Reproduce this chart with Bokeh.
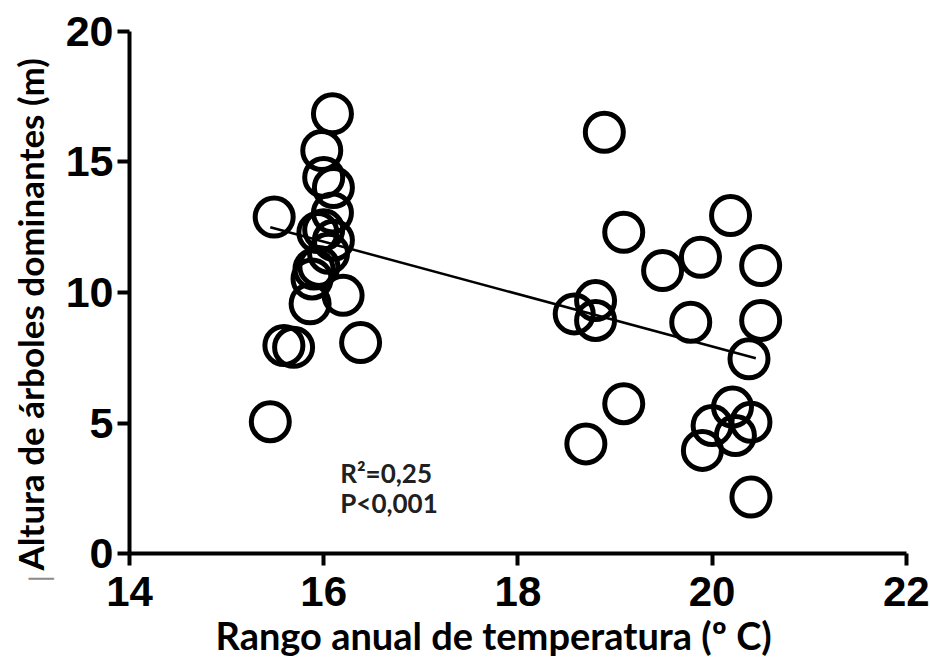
from bokeh.plotting import figure
from bokeh.models import Label, Range1d, FixedTicker
from bokeh.embed import file_html
from bokeh.resources import INLINE

# Data
temp_range = [15.45, 15.49, 15.59, 15.69, 16.09, 15.98, 16.00, 16.10, 16.09,
              15.94, 16.00, 16.10, 16.05, 15.95, 15.88, 15.90, 15.86, 16.20, 16.38,
              18.58, 18.80, 18.80, 18.89, 19.09, 19.09, 18.70, 19.49, 19.88, 20.19,
              20.50, 19.78, 20.50, 20.38, 20.21, 20.00, 20.40, 19.90, 20.24, 20.40]
tree_height = [5.05, 12.89, 7.97, 7.90, 16.85, 15.44, 14.41, 14.02, 13.05,
               12.3, 12.4, 12.0, 11.5, 11.0, 10.52, 10.9, 9.57, 9.89, 8.08,
               9.18, 9.69, 8.93, 16.14, 12.31, 5.74, 4.20, 10.84, 11.35, 12.95,
               11.03, 8.86, 8.93, 7.46, 5.61, 4.90, 5.03, 3.95, 4.52, 2.16]
fit_x = [15.45, 20.45]
fit_y = [12.5, 7.48]
x_ticks = [14, 16, 18, 20, 22]
y_ticks = [0, 5, 10, 15, 20]
x_title = "Rango anual de temperatura (º C)"
y_title = "Altura de árboles dominantes (m)"
stats = ["R²=0,25", "P<0,001"]

# the frame covers the whole page; axes are drawn at fixed data positions
p = figure(width=930, height=669, output_backend="svg", toolbar_location=None,
           x_range=Range1d(12.6715, 22.2492), y_range=Range1d(-4.4444, 21.1877),
           min_border=0)
p.outline_line_color = None
p.xgrid.visible = False
p.ygrid.visible = False
p.background_fill_color = "white"
p.border_fill_color = "white"

p.line(fit_x, fit_y, line_color="black", line_width=2.5)
p.scatter(temp_range, tree_height, size=38, marker="circle",
          fill_color="white", fill_alpha=0.0, line_color="black", line_width=5)

xa = p.xaxis[0]
ya = p.yaxis[0]
xa.fixed_location = 0
xa.bounds = (14, 22)
ya.fixed_location = 14
ya.bounds = (0, 20)
for ax in (xa, ya):
    ax.axis_line_width = 4
    ax.axis_line_color = "black"
    ax.major_tick_line_width = 4
    ax.major_tick_line_color = "black"
    ax.major_tick_out = 12
    ax.major_tick_in = 0
    ax.minor_tick_line_color = None
    ax.major_label_text_color = "black"
    ax.major_label_text_font = "Liberation Sans"

xa.ticker = FixedTicker(ticks=x_ticks)
ya.ticker = FixedTicker(ticks=y_ticks)
xa.major_label_text_font_style = "bold"
xa.major_label_text_font_size = "42px"
xa.major_label_standoff = 11
ya.major_label_text_font_style = "bold"
ya.major_label_text_font_size = "43px"
ya.major_label_standoff = 4

# axis titles
p.add_layout(Label(x=17.75, y=-3.12, text=x_title, text_font="Lato",
                   text_font_size="38px", text_font_style="bold",
                   text_align="center", text_baseline="alphabetic", text_color="black"))
p.add_layout(Label(x=12.98, y=9.16, text=y_title, angle=1.5708, text_font="Lato",
                   text_font_size="35px", text_font_style="bold",
                   text_align="center", text_baseline="alphabetic", text_color="black"))
p.add_layout(Label(x=13.07, y=-0.97, text="|", angle=1.5708, text_font="Lato",
                   text_font_size="26px", text_align="center",
                   text_baseline="middle", text_color="#8c8c8c"))

# statistics
p.add_layout(Label(x=16.17, y=3.1, text=stats[0], text_font="Lato",
                   text_font_size="26px", text_font_style="bold",
                   text_baseline="alphabetic", text_color="#202020"))
p.add_layout(Label(x=16.17, y=1.95, text=stats[1], text_font="Lato",
                   text_font_size="26px", text_font_style="bold",
                   text_baseline="alphabetic", text_color="#202020"))

open("out.html", "w").write(file_html(p, INLINE))
